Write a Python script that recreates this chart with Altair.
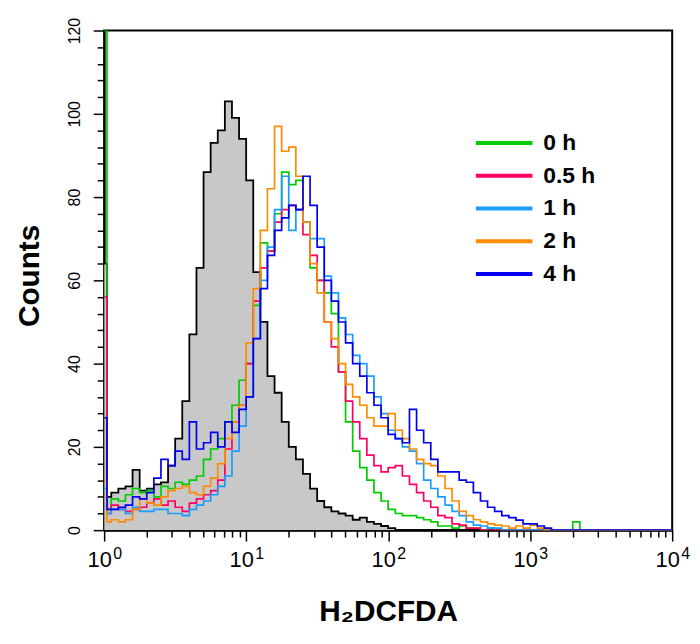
import altair as alt
import pandas as pd

# Bin left edges in decades (log10 of fluorescence channel)
LOG_EDGES = [0.0, 0.02] + [round(0.05 * k, 2) for k in range(1, 69)] + [4.0]

# Unstained / control histogram (grey filled)
CONTROL = [64, 8,
           9, 10, 10.5, 14.5, 9.5, 10, 11, 11.5, 15.5, 22, 31, 47, 63, 86, 93, 96, 103, 99, 94,
           84, 62, 50, 37, 33, 26, 20, 17, 13.5, 10, 7, 5.5, 4.5, 4, 3.5, 2.5, 3, 2, 1.5, 1,
           0.5, 0, 0, 0, 0, 0, 0, 0, 0, 0, 0, 0, 0, 0, 0, 0, 0, 0, 0, 0,
           0, 0, 0, 0, 0, 0, 0, 0, 0,
           0]

H0 = [120, 5,
      7.5, 7, 8.5, 10, 9, 9.5, 8, 10.5, 10, 11.5, 11, 12, 13, 17, 19.5, 22, 26, 30, 36,
      40, 54, 69, 67, 76, 86, 83, 84, 74, 63, 60, 57, 52, 38, 26, 19, 15, 12, 9, 7,
      5, 4, 3.5, 3.5, 3, 2.5, 2, 1, 1, 0.5, 1, 0.5, 0.5, 0, 0.5, 0, 0, 0, 0, 0,
      0, 0, 0, 0, 0, 0, 2, 0, 0,
      0]

H05 = [56, 4,
       6, 5, 4.5, 5, 5.5, 6.5, 7.5, 6, 7, 5.5, 4.5, 6.5, 7.5, 8.5, 9.5, 12, 19.5, 26, 30,
       40, 55, 63, 67, 74, 77, 78, 77, 71, 66, 60, 50, 44, 38, 31, 26, 22, 18, 15.5, 14,
       15, 15.5, 13, 11, 9, 7, 5.5, 3.5, 3, 1.5, 1.2, 0.5, 0.5, 0, 0, 0, 0, 0, 0, 0,
       0, 0, 0, 0, 0, 0, 0, 0, 0,
       0]

H1 = [10, 4,
      5, 5, 4, 5.5, 4.5, 4.5, 5, 5, 4, 4, 3.5, 5, 6, 7, 8.5, 10.5, 13, 19, 25,
      32, 46, 60, 68, 77, 85, 72, 77, 74, 70, 70, 61, 57, 51, 47, 42, 40, 37, 32, 28,
      24, 22, 20, 19, 16, 12, 10, 8, 6, 4.5, 3.5, 2, 1.2, 1, 0.5, 0.5, 0, 0, 0, 0,
      0, 0, 0, 0, 0, 0, 0, 0, 0,
      0]

H2 = [12, 2,
      2.5, 2, 2.5, 5, 7.5, 6.5, 6, 8, 9.5, 10, 10.5, 9, 8.5, 10.5, 12.5, 16, 22, 26, 30,
      45, 58, 72, 82, 97, 91, 92, 85, 74, 64, 57, 50, 46, 40, 35, 32, 30, 27, 25, 25,
      28, 24, 22, 19.5, 17, 16, 15.5, 13, 10, 7, 4.5, 3.5, 2.5, 2, 1.5, 1.2, 1, 0.5, 1, 0.5,
      1.2, 0.5, 0, 0, 0, 0, 0, 0, 0,
      0]

H4 = [27, 5,
      5, 5.5, 6, 8, 7.5, 9, 12.5, 17, 15.5, 19, 17, 26, 19.5, 21, 23.5, 20, 26, 23.5, 29,
      32, 46, 58, 66, 72, 75, 78, 77, 85, 78, 68, 60, 55, 50, 45, 40, 37, 33, 30, 27,
      23, 22, 21, 29, 24, 21, 17, 14, 14, 14, 12, 11.5, 9, 7, 5.5, 4.5, 3.5, 3, 2.4, 1.5,
      1.5, 1, 0.5, 0, 0, 0, 0, 0, 0,
      0]

LABELS = ["0 h", "0.5 h", "1 h", "2 h", "4 h"]
COLORS = ["#00cc00", "#ff0066", "#1a9cff", "#ff8c00", "#0000ee"]
SERIES = [H0, H05, H1, H2, H4]

MAJOR_X = [1, 10, 100, 1000, 10000]
EXPONENTS = ["0", "1", "2", "3", "4"]
MINOR_X = [m * 10 ** k for k in range(4) for m in range(2, 10)]
MAJOR_Y = [0, 20, 40, 60, 80, 100, 120]
MINOR_Y = [v for v in range(0, 121, 4) if v % 20]

x_vals = [10 ** e for e in LOG_EDGES]
ctrl_df = pd.DataFrame({"x": x_vals, "count": CONTROL})
rows = []
for lab, vals in zip(LABELS, SERIES):
    for xv, c in zip(x_vals, vals):
        rows.append({"x": xv, "count": c, "time": lab})
df = pd.DataFrame(rows)

FONT = "Liberation Sans"
x_scale = alt.Scale(type="log", domain=[1, 10000], nice=False)
y_scale = alt.Scale(domain=[0, 120], nice=False)

exp_expr = "[" + ",".join("'%s'" % e for e in EXPONENTS) + "][round(log(datum.value)/LN10)]"

# base "10" labels + ticks + domain
x_major = alt.Axis(
    values=MAJOR_X, orient="bottom", title="H\u2082DCFDA",
    labelExpr="'10'", labelOffset=-5,
    labelFont=FONT, labelFontSize=22, labelColor="black", labelPadding=9,
    labelFlush=False, labelOverlap=False,
    tickSize=11, tickWidth=1.5, tickColor="black",
    domainColor="black", domainWidth=2, grid=False,
    titleFont=FONT, titleFontSize=30, titleFontWeight="bold", titleColor="black",
    titleY=82, titleBaseline="middle",
)
# superscript exponents of the decade labels
x_exp = alt.Axis(
    values=MAJOR_X, orient="bottom", labelExpr=exp_expr, labelOffset=13,
    labelFont=FONT, labelFontSize=16, labelColor="black", labelPadding=16,
    labelFlush=False, labelOverlap=False,
    ticks=False, tickSize=0, domain=False, grid=False,
)
x_minor = alt.Axis(values=MINOR_X, orient="bottom", labels=False, tickSize=7,
                   tickWidth=1.5, tickColor="black", domain=False, grid=False)
y_major = alt.Axis(
    values=MAJOR_Y, orient="left", title="Counts",
    labelAngle=270, labelAlign="center", labelBaseline="bottom",
    labelFont=FONT, labelFontSize=16, labelColor="black", labelPadding=11,
    labelFlush=False, labelOverlap=False,
    tickSize=11, tickWidth=1.5, tickColor="black",
    domainColor="black", domainWidth=2, grid=False,
    titleFont=FONT, titleFontSize=30, titleFontWeight="bold", titleColor="black",
    titleAngle=270, titleX=-75, titleY=247, titleAlign="center", titleBaseline="middle",
)
y_minor = alt.Axis(values=MINOR_Y, orient="left", labels=False, tickSize=7,
                   tickWidth=1.5, tickColor="black", domain=False, grid=False)

# a short horizontal path symbol (3x its nominal size) keeps the rows compact
legend = alt.Legend(
    orient="none", legendX=392, legendY=102, title=None,
    symbolType="M-3,0H3", symbolSize=361, symbolStrokeWidth=4,
    labelFont=FONT, labelFontSize=23, labelFontWeight="bold", labelColor="black",
    labelOffset=28, rowPadding=9, padding=0,
)

area = alt.Chart(ctrl_df).mark_area(
    interpolate="step-after", color="#c8c8c8", clip=True
).encode(
    x=alt.X("x:Q", scale=x_scale, axis=x_minor, title=None),
    y=alt.Y("count:Q", scale=y_scale, axis=y_minor, title=None),
)

ctrl_line = alt.Chart(ctrl_df).mark_line(
    interpolate="step-after", color="black", strokeWidth=1.8, clip=True
).encode(
    x=alt.X("x:Q", scale=x_scale, axis=x_exp, title=None),
    y=alt.Y("count:Q", scale=y_scale, axis=None),
)

lines = alt.Chart(df).mark_line(
    interpolate="step-after", strokeWidth=1.7, clip=True
).encode(
    x=alt.X("x:Q", scale=x_scale, axis=x_major),
    y=alt.Y("count:Q", scale=y_scale, axis=y_major),
    color=alt.Color("time:N", scale=alt.Scale(domain=LABELS, range=COLORS), legend=legend),
)

chart = alt.layer(area, ctrl_line, lines).resolve_axis(
    x="independent", y="independent"
).properties(
    width=573, height=504,
    autosize=alt.AutoSizeParams(type="none"),
    padding={"left": 97, "top": 20, "right": 20, "bottom": 100},
).configure_view(stroke="black", strokeWidth=2)

chart.save("out.html", embed_options={"renderer": "svg", "actions": False})
